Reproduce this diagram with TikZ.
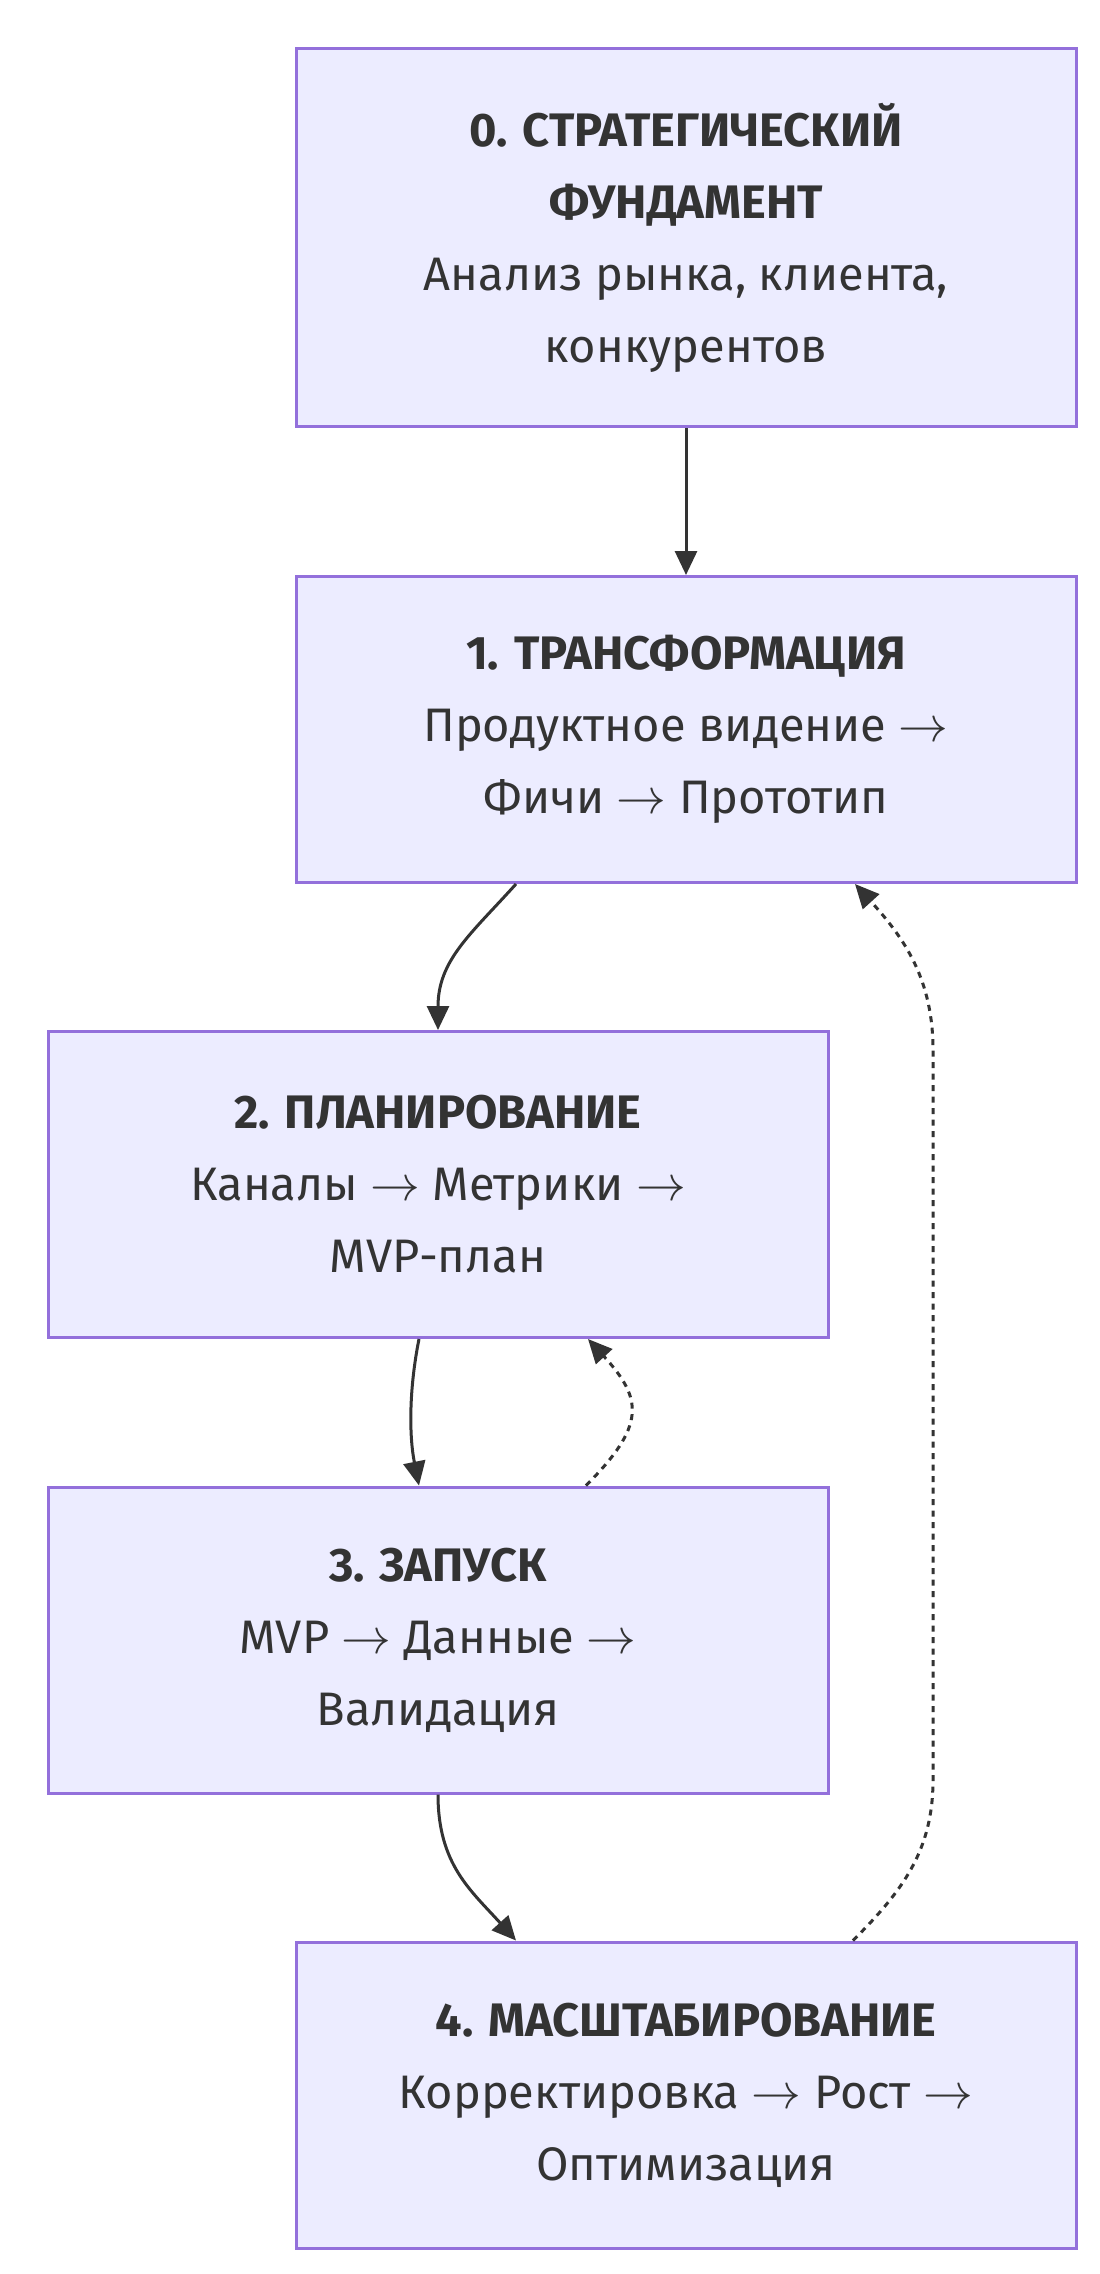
\documentclass[tikz,border=0pt]{standalone}
\usepackage{fontspec}
\setmainfont{Fira Sans}
\usetikzlibrary{arrows.meta,calc}
\definecolor{boxfill}{HTML}{ECECFF}
\definecolor{boxline}{HTML}{9370DB}
\definecolor{ink}{HTML}{333333}

\begin{document}
\begin{tikzpicture}[x=0.5pt,y=-0.5pt,
    stage/.style={draw=boxline,fill=boxfill,line width=1.5pt,
        minimum width=390pt,minimum height=153pt,align=center,
        text=ink,font=\fontsize{23.5}{36}\selectfont},
    link/.style={draw=ink,line width=1.5pt,-{Triangle[length=12pt,width=11pt]}},
    back/.style={link,dash pattern=on 3pt off 2.75pt}]
    \useasboundingbox (0,0) rectangle (1099,2274);
    \node[stage,minimum height=189pt] (s0) at (686,237.5)
        {\textbf{0. СТРАТЕГИЧЕСКИЙ}\\ \textbf{ФУНДАМЕНТ}\\ Анализ рынка, клиента,\\ конкурентов};
    \node[stage] (s1) at (686,729.5)
        {\textbf{1. ТРАНСФОРМАЦИЯ}\\ Продуктное видение $\rightarrow$\\ Фичи $\rightarrow$ Прототип};
    \node[stage] (s2) at (438,1184.5)
        {\textbf{2. ПЛАНИРОВАНИЕ}\\ Каналы $\rightarrow$ Метрики $\rightarrow$\\ MVP-план};
    \node[stage] (s3) at (438,1640)
        {\textbf{3. ЗАПУСК}\\ MVP $\rightarrow$ Данные $\rightarrow$\\ Валидация};
    \node[stage] (s4) at (686,2095)
        {\textbf{4. МАСШТАБИРОВАНИЕ}\\ Корректировка $\rightarrow$ Рост $\rightarrow$\\ Оптимизация};
    % forward flow
    \draw[link] (s0) -- (s1);
    \draw[link] ($(s1.south)+(-170,0)$) .. controls +(-45,50) and +(0,-70) .. (s2.north);
    \draw[link] ($(s2.south)+(-19,0)$) .. controls +(-10,50) and +(-10,-50) .. ($(s3.north)+(-19,0)$);
    \draw[link] (s3.south) .. controls +(0,70) and +(-45,-50) .. ($(s4.north)+(-170,0)$);
    % feedback loops
    \draw[back] ($(s3.north)+(148,0)$) .. controls +(60,-60) and +(55,60) .. ($(s2.south)+(150,0)$);
    \draw[back] ($(s4.north)+(167,0)$) .. controls +(50,-50) and (933,1850) .. (933,1780)
        -- (933,1050) .. controls (933,980) and +(50,55) .. ($(s1.south)+(169,0)$);
\end{tikzpicture}
\end{document}
